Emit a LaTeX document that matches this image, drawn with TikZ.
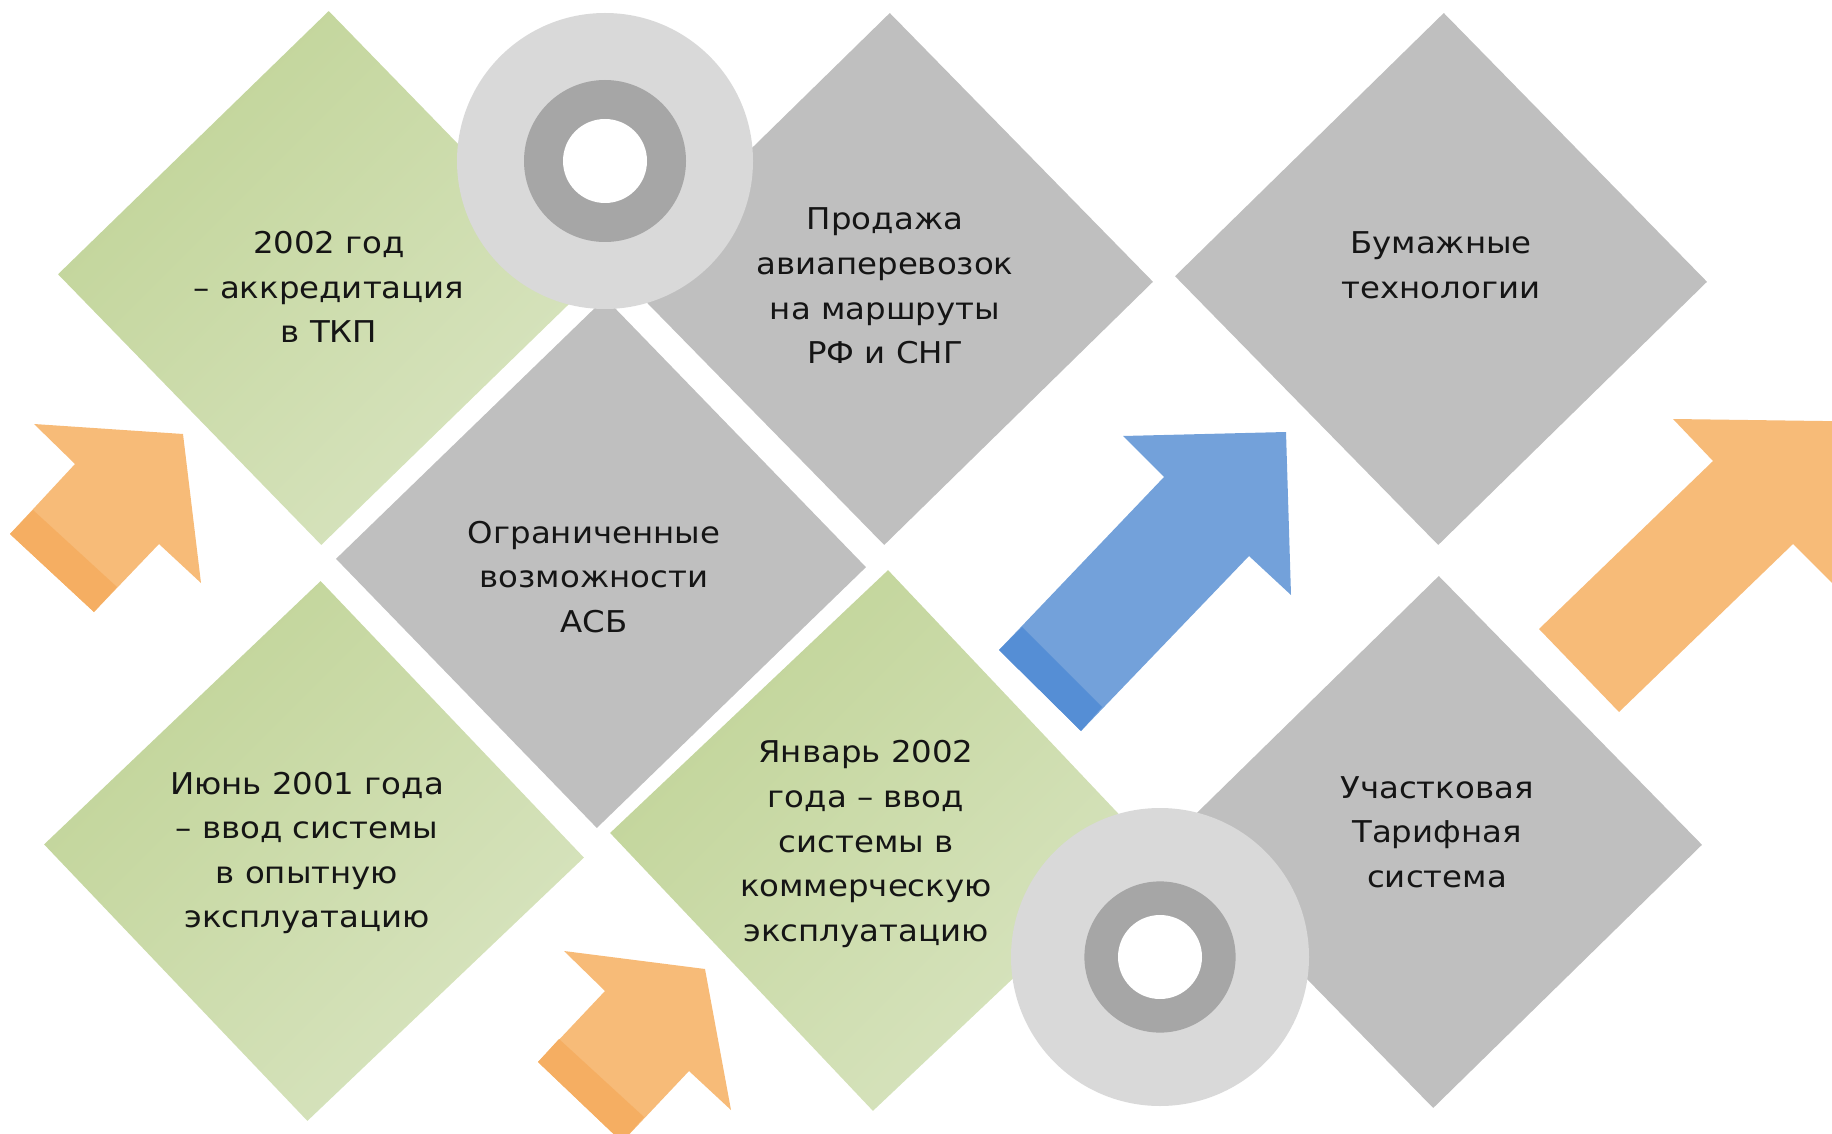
\documentclass[tikz,border=0pt]{standalone}
\usepackage{fontspec}
\setmainfont{DejaVu Sans}[FakeStretch=1.08]
\definecolor{grA}{HTML}{C1D498}
\definecolor{grB}{HTML}{D8E4C0}
\definecolor{grayD}{HTML}{BFBFBF}
\definecolor{circO}{HTML}{D9D9D9}
\definecolor{circR}{HTML}{A6A6A6}
\definecolor{orL}{HTML}{F7BB78}
\definecolor{orD}{HTML}{F5AE62}
\definecolor{blL}{HTML}{73A1DA}
\definecolor{blD}{HTML}{558ED5}
\definecolor{txtc}{HTML}{151515}
\newcommand\mydiamond[5]{%
  \begin{scope}[shift={(#1,#2)},rotate=#4]
    \path[#5] (0,-#3) -- (#3,0) -- (0,#3) -- (-#3,0) -- cycle;
  \end{scope}}
\begin{document}
\begin{tikzpicture}[x=0.5pt,y=-0.5pt,
  greenbox/.style={top color=grA, bottom color=grB, shading angle=45},
  graybox/.style={fill=grayD},
  lbl/.style={align=center, inner sep=0pt, text=txtc,
    font=\fontsize{15}{22.3}\selectfont},
  orange arrow/.style={fill=orL},
  orange band/.style={fill=orD},
  blue arrow/.style={fill=blL},
  blue band/.style={fill=blD}]
\useasboundingbox (0,0) rectangle (1832,1134);
\clip (0,0) rectangle (1832,1134);

% diamonds
\mydiamond{325}{278}{267}{-0.8}{greenbox}
\mydiamond{887}{279}{266}{-0.6}{graybox}
\mydiamond{1441}{279}{266}{-0.6}{graybox}
\mydiamond{601}{563}{265}{-0.9}{graybox}
\mydiamond{314}{851}{270}{-1.4}{greenbox}
\mydiamond{880.5}{840.5}{270.5}{-1.6}{greenbox}
\mydiamond{1436}{842}{266}{-0.6}{graybox}

% circles
\fill[circO] (605,161) circle[radius=74pt];
\fill[circR] (605,161) circle[radius=40.5pt];
\fill[white] (605,161) circle[radius=21pt];
\fill[circO] (1160,957) circle[radius=74.5pt];
\fill[circR] (1160,957) circle[radius=37.8pt];
\fill[white] (1160,957) circle[radius=21pt];

% arrows
\fill[orange arrow] (34,424) -- (183,434) -- (201,583) -- (159,544) -- (94,612) -- (10,534) -- (75,464) -- cycle;
\fill[orange band] (10,534) -- (94,612) -- (117,587) -- (33,510) -- cycle;

\fill[blue arrow] (1123,436) -- (1286,432) -- (1291,595) -- (1249,556) -- (1081,731) -- (999,650) -- (1164,477) -- cycle;
\fill[blue band] (999,650) -- (1081,731) -- (1102,707) -- (1022,627) -- cycle;

\fill[orange arrow] (1673,419) -- (1860,421.5) -- (1860,611) -- (1793,544) -- (1619,712) -- (1539,629) -- (1713,461) -- cycle;

\fill[orange arrow] (564,951) -- (705,969) -- (731,1110) -- (689,1071) -- (622,1142) -- (538,1062) -- (605,991) -- cycle;
\fill[orange band] (538,1062) -- (622,1142) -- (644,1117) -- (559,1039) -- cycle;

% texts
\node[lbl] (t1) at (329,287) {2002 год\\– аккредитация\\в ТКП};
\node[lbl] (t2) at (885,286) {Продажа\\авиаперевозок\\на маршруты\\РФ и СНГ};
\node[lbl] (t3) at (1441,265) {Бумажные\\технологии};
\node[lbl] (t4) at (594,577) {Ограниченные\\возможности\\АСБ};
\node[lbl] (t5) at (307,853) {Июнь 2001 года\\– ввод системы\\в опытную\\эксплуатацию};
\node[lbl] (t6) at (866,844) {Январь 2002\\года – ввод\\системы в\\коммерческую\\эксплуатацию};
\node[lbl] (t7) at (1437,832) {Участковая\\Тарифная\\система};
\end{tikzpicture}
\end{document}
